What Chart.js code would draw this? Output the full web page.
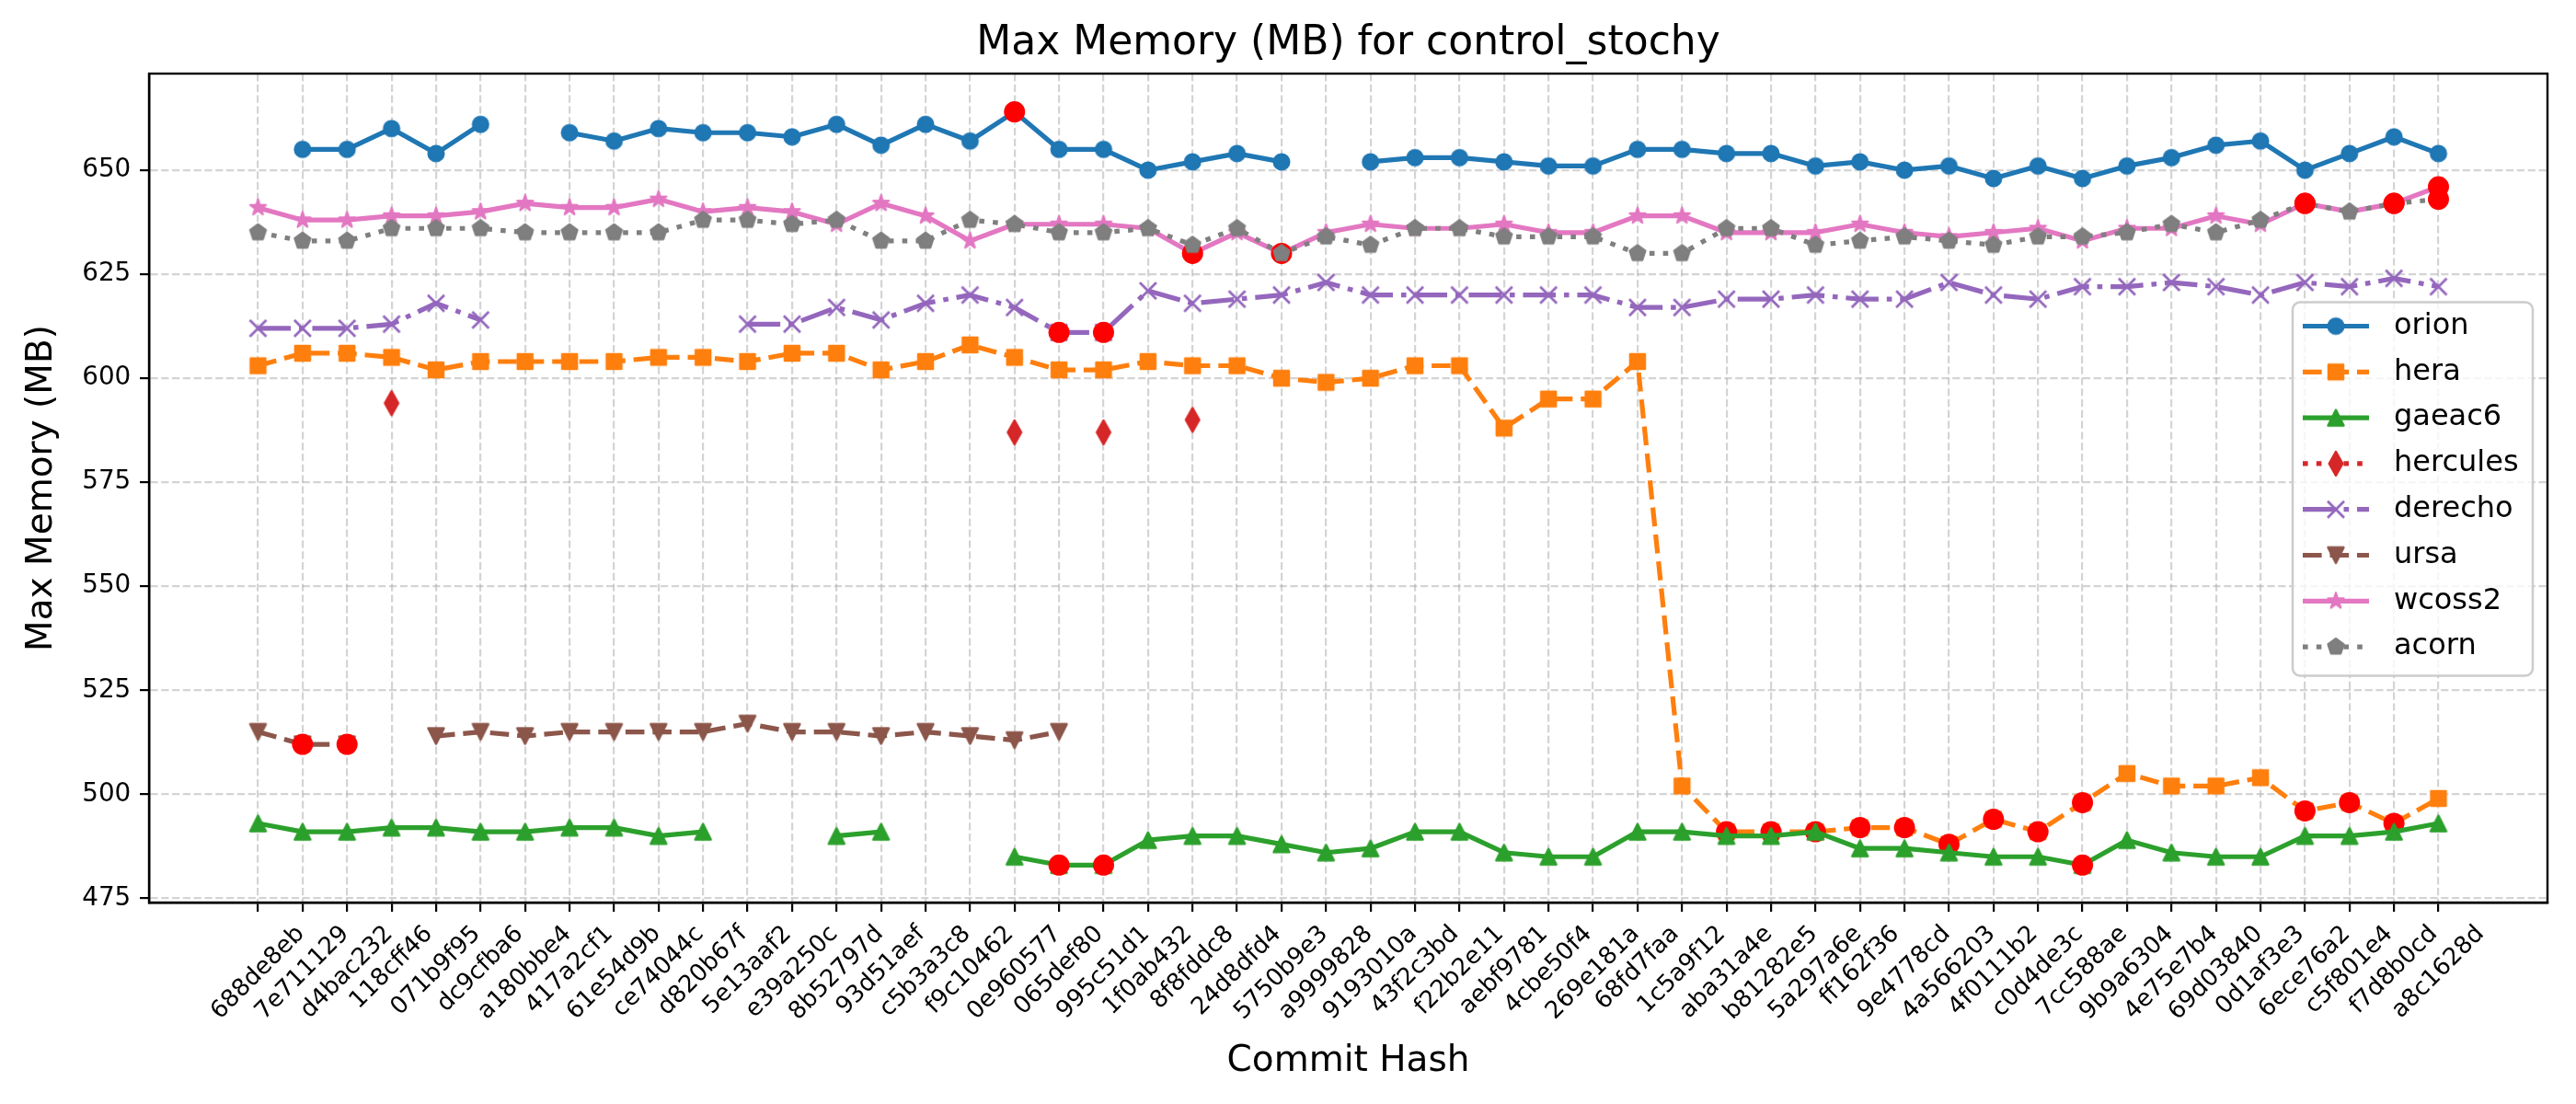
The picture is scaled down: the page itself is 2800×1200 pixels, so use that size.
<!DOCTYPE html>
<html>
<head>
<meta charset="utf-8">
<title>Max Memory (MB) for control_stochy</title>
<script src="https://cdn.jsdelivr.net/npm/chart.js@4.4.1/dist/chart.umd.min.js"></script>
<style>
  html, body { margin: 0; padding: 0; background: #fff; }
  #wrap { width: 2800px; height: 1200px; }
</style>
</head>
<body>
<div id="wrap"><canvas id="chart" width="2800" height="1200"></canvas></div>
<script>
// ---- data ----
const commits = [
  "688de8eb", "7e711129", "d4bac232", "118cff46", "071b9f95", "dc9cfba6", "a180bbe4", "417a2cf1",
  "61e54d9b", "ce74044c", "d820b67f", "5e13aaf2", "e39a250c", "8b52797d", "93d51aef", "c5b3a3c8",
  "f9c10462", "0e960577", "065def80", "995c51d1", "1f0ab432", "8f8fddc8", "24d8dfd4", "5750b9e3",
  "a9999828", "9193010a", "43f2c3bd", "f22b2e11", "aebf9781", "4cbe50f4", "269e181a", "68fd7faa",
  "1c5a9f12", "aba31a4e", "b81282e5", "5a297a6e", "ff162f36", "9e4778cd", "4a566203", "4f0111b2",
  "c0d4de3c", "7cc588ae", "9b9a6304", "4e75e7b4", "69d03840", "0d1af3e3", "6ece76a2", "c5f801e4",
  "f7d8b0cd", "a8c1628d"
];
const yTicks = [475, 500, 525, 550, 575, 600, 625, 650];

const orion = [null, 655, 655, 660, 654, 661, null, 659, 657, 660, 659, 659, 658, 661, 656, 661, 657, 664, 655, 655,
  650, 652, 654, 652, null, 652, 653, 653, 652, 651, 651, 655, 655, 654, 654, 651, 652, 650, 651, 648,
  651, 648, 651, 653, 656, 657, 650, 654, 658, 654];
const hera = [603, 606, 606, 605, 602, 604, 604, 604, 604, 605, 605, 604, 606, 606, 602, 604, 608, 605, 602, 602,
  604, 603, 603, 600, 599, 600, 603, 603, 588, 595, 595, 604, 502, 491, 491, 491, 492, 492, 488, 494,
  491, 498, 505, 502, 502, 504, 496, 498, 493, 499];
const gaeac6 = [493, 491, 491, 492, 492, 491, 491, 492, 492, 490, 491, null, null, 490, 491, null, null, 485, 483, 483,
  489, 490, 490, 488, 486, 487, 491, 491, 486, 485, 485, 491, 491, 490, 490, 491, 487, 487, 486, 485,
  485, 483, 489, 486, 485, 485, 490, 490, 491, 493];
const hercules = [null, null, null, 594, null, null, null, null, null, null, null, null, null, null, null, null, null, 587, null, 587,
  null, 590, null, null, null, null, null, null, null, null, null, null, null, null, null, null, null, null, null, null,
  null, null, null, null, null, null, null, null, null, null];
const derecho = [612, 612, 612, 613, 618, 614, null, null, null, null, null, 613, 613, 617, 614, 618, 620, 617, 611, 611,
  621, 618, 619, 620, 623, 620, 620, 620, 620, 620, 620, 617, 617, 619, 619, 620, 619, 619, 623, 620,
  619, 622, 622, 623, 622, 620, 623, 622, 624, 622];
const ursa = [515, 512, 512, null, 514, 515, 514, 515, 515, 515, 515, 517, 515, 515, 514, 515, 514, 513, 515, null,
  null, null, null, null, null, null, null, null, null, null, null, null, null, null, null, null, null, null, null, null,
  null, null, null, null, null, null, null, null, null, null];
const wcoss2 = [641, 638, 638, 639, 639, 640, 642, 641, 641, 643, 640, 641, 640, 637, 642, 639, 633, 637, 637, 637,
  636, 630, 635, 630, 635, 637, 636, 636, 637, 635, 635, 639, 639, 635, 635, 635, 637, 635, 634, 635,
  636, 633, 636, 636, 639, 637, 642, 640, 642, 646];
const acorn = [635, 633, 633, 636, 636, 636, 635, 635, 635, 635, 638, 638, 637, 638, 633, 633, 638, 637, 635, 635,
  636, 632, 636, 630, 634, 632, 636, 636, 634, 634, 634, 630, 630, 636, 636, 632, 633, 634, 633, 632,
  634, 634, 635, 637, 635, 638, 642, 640, 642, 643];

// indices of the points flagged with a red dot, per series
const orionFlags = [17];
const heraFlags = [33, 34, 35, 36, 37, 38, 39, 40, 41, 46, 47, 48];
const gaeac6Flags = [18, 19, 41];
const herculesFlags = [];
const derechoFlags = [18, 19];
const ursaFlags = [1, 2];
const wcoss2Flags = [21, 23, 46, 48, 49];
const acornFlags = [46, 48, 49];

// ---- styling ----
Chart.defaults.font.family = "'DejaVu Sans', sans-serif";
Chart.defaults.color = "#000";

const LW = 5.2;
const DASHED = [20.6, 8.9];
const DASHDOT = [35.6, 8.9, 5.6, 8.9];
const DOTTED = [5.6, 9.2];
const gridColor = "rgba(176,176,176,0.55)";
const xTickFont = 26;

function makeMarker(size, paint) {
  const c = document.createElement("canvas");
  c.width = size;
  c.height = size;
  const g = c.getContext("2d");
  g.translate(size / 2, size / 2);
  g.lineJoin = "round";
  paint(g);
  return c;
}

function polygon(g, pts, color, edge) {
  g.beginPath();
  pts.forEach(([x, y], i) => (i ? g.lineTo(x, y) : g.moveTo(x, y)));
  g.closePath();
  g.fillStyle = color;
  g.fill();
  g.lineWidth = edge;
  g.strokeStyle = color;
  g.stroke();
}

function regular(n, r, start) {
  const pts = [];
  for (let k = 0; k < n; k++) {
    const a = start + (k * 2 * Math.PI) / n;
    pts.push([r * Math.cos(a), r * Math.sin(a)]);
  }
  return pts;
}

function starPts(outer, inner) {
  const pts = [];
  for (let k = 0; k < 10; k++) {
    const r = k % 2 ? inner : outer;
    const a = -Math.PI / 2 + (k * Math.PI) / 5;
    pts.push([r * Math.cos(a), r * Math.sin(a)]);
  }
  return pts;
}

const markers = {
  circle: (c) => makeMarker(24, (g) => {
    g.beginPath();
    g.arc(0, 0, 8.3, 0, Math.PI * 2);
    g.fillStyle = c; g.fill();
    g.lineWidth = 2.5; g.strokeStyle = c; g.stroke();
  }),
  square: (c) => makeMarker(24, (g) => polygon(g, [[-8, -8], [8, -8], [8, 8], [-8, 8]], c, 2.5)),
  triUp: (c) => makeMarker(24, (g) => polygon(g, [[0, -8.5], [8.5, 8.5], [-8.5, 8.5]], c, 2.5)),
  triDown: (c) => makeMarker(24, (g) => polygon(g, [[0, 8.5], [8.5, -8.5], [-8.5, -8.5]], c, 2.5)),
  thinDiamond: (c) => makeMarker(34, (g) => polygon(g, [[0, -13], [7.3, 0], [0, 13], [-7.3, 0]], c, 2.5)),
  cross: (c) => makeMarker(24, (g) => {
    g.beginPath();
    g.moveTo(-9, -9); g.lineTo(9, 9);
    g.moveTo(-9, 9); g.lineTo(9, -9);
    g.lineWidth = 2.8; g.strokeStyle = c; g.stroke();
  }),
  star: (c) => makeMarker(26, (g) => polygon(g, starPts(9, 3.44), c, 2.2)),
  pentagon: (c) => makeMarker(26, (g) => polygon(g, regular(5, 9, -Math.PI / 2), c, 2.2)),
};

const series = [
  { label: "orion", values: orion, flags: orionFlags, color: "#1f77b4", dash: [], marker: "circle" },
  { label: "hera", values: hera, flags: heraFlags, color: "#ff7f0e", dash: DASHED, marker: "square" },
  { label: "gaeac6", values: gaeac6, flags: gaeac6Flags, color: "#2ca02c", dash: [], marker: "triUp" },
  { label: "hercules", values: hercules, flags: herculesFlags, color: "#d62728", dash: DOTTED, marker: "thinDiamond" },
  { label: "derecho", values: derecho, flags: derechoFlags, color: "#9467bd", dash: DASHDOT, marker: "cross" },
  { label: "ursa", values: ursa, flags: ursaFlags, color: "#8c564b", dash: DASHED, marker: "triDown" },
  { label: "wcoss2", values: wcoss2, flags: wcoss2Flags, color: "#e377c2", dash: [], marker: "star" },
  { label: "acorn", values: acorn, flags: acornFlags, color: "#7f7f7f", dash: DOTTED, marker: "pentagon" },
];
series.forEach((s) => { s.img = markers[s.marker](s.color); });

// matplotlib draws in call order; Chart.js draws highest `order` first
const datasets = [];
series.forEach((s) => {
  datasets.push({
    label: s.label,
    data: s.values.map((v, i) => ({ x: i, y: v })),
    borderColor: s.color,
    backgroundColor: s.color,
    borderWidth: LW,
    borderDash: s.dash,
    borderJoinStyle: "round",
    pointStyle: s.img,
    pointRadius: 10,
    spanGaps: false,
    tension: 0,
  });
  datasets.push({
    label: s.label + " flagged",
    data: s.flags.map((i) => ({ x: i, y: s.values[i] })),
    showLine: false,
    pointStyle: "circle",
    pointRadius: 11.5,
    pointBorderWidth: 0,
    pointBackgroundColor: "#ff0000",
    pointBorderColor: "#ff0000",
  });
});
datasets.forEach((d, k) => { d.order = datasets.length - k; });

// full frame (matplotlib spines)
const framePlugin = {
  id: "frame",
  afterDatasetsDraw(chart) {
    const { ctx, chartArea: a } = chart;
    ctx.save();
    ctx.lineWidth = 2.4;
    ctx.strokeStyle = "#000";
    ctx.setLineDash([]);
    ctx.strokeRect(a.left, a.top, a.right - a.left, a.bottom - a.top);
    ctx.restore();
  },
};

// x tick labels rotated 45deg and centred under their tick (matplotlib ha="center")
const xLabelPlugin = {
  id: "xLabels",
  afterDraw(chart) {
    const { ctx, chartArea: a } = chart;
    const xs = chart.scales.x;
    ctx.save();
    ctx.font = xTickFont + "px 'DejaVu Sans'";
    ctx.fillStyle = "#000";
    ctx.textAlign = "center";
    ctx.textBaseline = "middle";
    const h = 1.17 * xTickFont;
    const top = a.bottom + 19.4;
    commits.forEach((label, i) => {
      const L = ctx.measureText(label).width;
      const cx = xs.getPixelForValue(i);
      const cy = top + Math.SQRT1_2 * (L + h) / 2;
      ctx.save();
      ctx.translate(cx, cy);
      ctx.rotate(-Math.PI / 4);
      ctx.fillText(label, 0, 0);
      ctx.restore();
    });
    ctx.restore();
  },
};

// matplotlib-like legend: line + marker handles inside a rounded box
const legendPlugin = {
  id: "mplLegend",
  afterDraw(chart) {
    const { ctx, chartArea: a } = chart;
    const w = 261, h = 406, rowH = 49.8;
    const right = a.right - 16;
    const left = right - w;
    const top = (a.top + a.bottom) / 2 - h / 2 + 1;
    ctx.save();
    ctx.beginPath();
    ctx.roundRect(left, top, w, h, 8);
    ctx.fillStyle = "rgba(255,255,255,0.8)";
    ctx.fill();
    ctx.lineWidth = 2.5;
    ctx.strokeStyle = "#cccccc";
    ctx.stroke();
    series.forEach((s, k) => {
      const y = top + 26 + k * rowH;
      ctx.setLineDash(s.dash);
      ctx.lineWidth = LW;
      ctx.lineCap = "butt";
      ctx.strokeStyle = s.color;
      ctx.beginPath();
      ctx.moveTo(left + 11, y);
      ctx.lineTo(left + 83, y);
      ctx.stroke();
      ctx.setLineDash([]);
      ctx.drawImage(s.img, left + 47 - s.img.width / 2, y - s.img.height / 2);
      ctx.fillStyle = "#000";
      ctx.font = "32px 'DejaVu Sans'";
      ctx.textBaseline = "middle";
      ctx.textAlign = "left";
      ctx.fillText(s.label, left + 110, y);
    });
    ctx.restore();
  },
};

new Chart(document.getElementById("chart"), {
  type: "line",
  data: { datasets },
  options: {
    responsive: false,
    animation: false,
    devicePixelRatio: 1,
    layout: { padding: { left: 0, right: 31, top: 0, bottom: 0 } },
    plugins: {
      legend: { display: false },
      tooltip: { enabled: false },
      title: {
        display: true,
        fullSize: false,
        text: "Max Memory (MB) for control_stochy",
        color: "#000",
        font: { size: 44, weight: "normal" },
        padding: { top: 21.6, bottom: 5.6 },
      },
    },
    scales: {
      x: {
        type: "linear",
        min: -2.45,
        max: 51.45,
        afterBuildTicks: (s) => { s.ticks = commits.map((_, i) => ({ value: i })); },
        afterFit: (s) => { s.height = 219; },
        ticks: { display: false, autoSkip: false },
        grid: { color: gridColor, lineWidth: 2.2, tickColor: "#000", tickWidth: 2.2, tickLength: 10 },
        border: { color: "#000", width: 2.4, dash: [8.2, 3.6] },
        title: {
          display: true,
          text: "Commit Hash",
          color: "#000",
          font: { size: 39 },
          padding: { top: 0, bottom: 23 },
        },
      },
      y: {
        type: "linear",
        min: 474,
        max: 673.2,
        afterBuildTicks: (s) => { s.ticks = yTicks.map((v) => ({ value: v })); },
        afterFit: (s) => { s.width = 162; },
        ticks: { padding: 9.7, color: "#000", font: { size: 27.8 } },
        grid: { color: gridColor, lineWidth: 2.2, tickColor: "#000", tickWidth: 2.2, tickLength: 10 },
        border: { color: "#000", width: 2.4, dash: [8.2, 3.6] },
        title: {
          display: true,
          text: "Max Memory (MB)",
          color: "#000",
          font: { size: 39 },
          padding: { top: 22, bottom: 0 },
        },
      },
    },
  },
  plugins: [framePlugin, xLabelPlugin, legendPlugin],
});
</script>
</body>
</html>
